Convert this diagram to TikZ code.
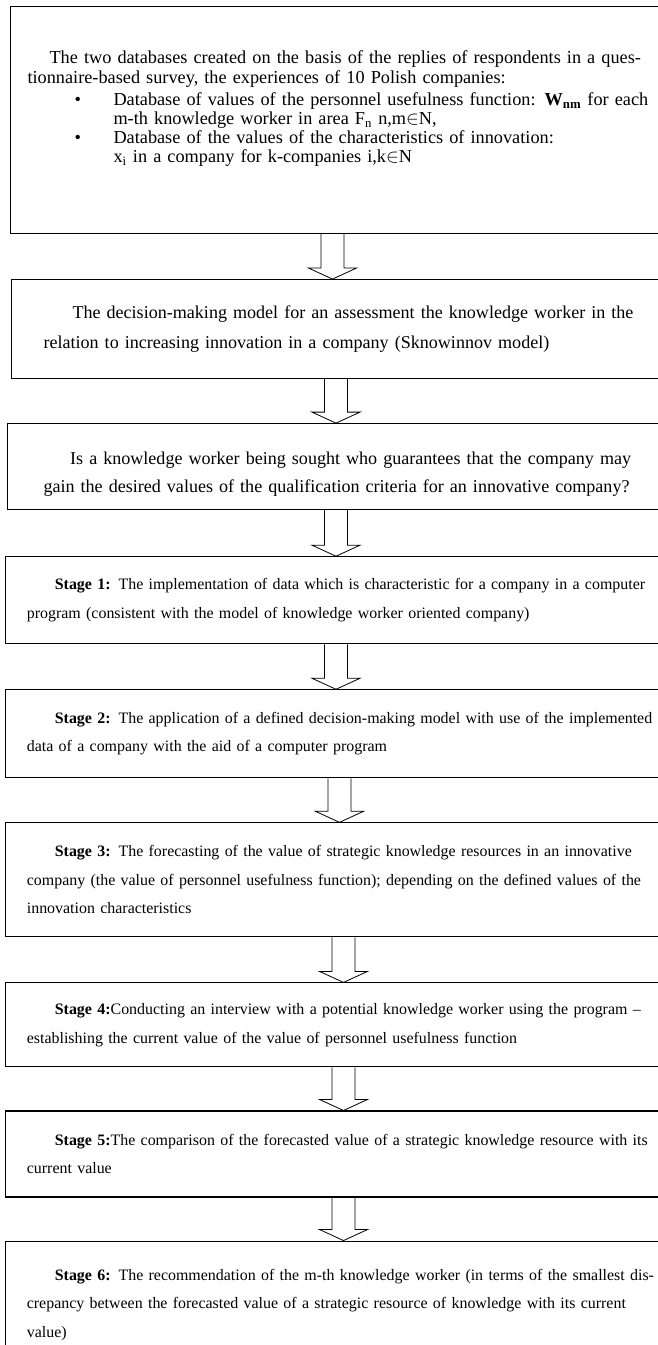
\documentclass[tikz,border=0pt]{standalone}
\usepackage{fontspec}
\setmainfont{Liberation Serif}
\usetikzlibrary{positioning}
\tikzset{
    block/.style={draw,rectangle,line width=0.8pt,anchor=north west,align=left,inner ysep=0pt,minimum width=490pt,text width=520pt},
    topbox/.style={block,inner xsep=24pt,font=\fontsize{13.55}{22.5}\selectfont},
    stagebox/.style={block,inner xsep=16pt,font=\fontsize{11.95}{21.4}\selectfont},
    hollow/.style={draw,line width=0.6pt}
}

\begin{document}
\begin{tikzpicture}[x=0.75pt,y=0.75pt]

                \fill[white] (0,0) rectangle (657,-1345);
                \useasboundingbox (0,0) rectangle (657,-1345);

                \node[topbox,inner xsep=12.75pt,minimum height=170.25pt,font=\fontsize{13.7}{14.25}\selectfont] (databases) at (10,-6)
                    {\hspace*{16.5pt}The two databases created on the basis of the replies of respondents in a ques-\\[0.75pt]
                     tionnaire-based survey, the experiences of 10 Polish companies:\\[2.25pt]
                     \makebox[64.5pt][l]{\hspace*{35.25pt}\textbullet}Database of values of the personnel usefulness function: \textbf{W\textsubscript{nm}} for each\\
                     \hspace*{64.5pt}m-th knowledge worker in area F\textsubscript{n} n,m$\in$N,\\
                     \makebox[64.5pt][l]{\hspace*{35.25pt}\textbullet}Database of the values of the characteristics of innovation:\\
                     \hspace*{64.5pt}x\textsubscript{i} in a company for k-companies i,k$\in$N\rule[-19.6pt]{0pt}{19.6pt}};

                \node[topbox,minimum height=74.25pt] (model) [below=33.75pt of databases.south west,anchor=north west,xshift=0.75pt]
                    {\hspace*{21.75pt}The decision-making model for an assessment the knowledge worker in the\\
                     relation to increasing innovation in a company (Sknowinnov model)};

                \node[topbox,inner xsep=27pt,minimum height=64.5pt,font=\fontsize{13.55}{21}\selectfont] (question) [below=33pt of model.south west,anchor=north west,xshift=-3pt]
                    {\rule{0pt}{20pt}\hspace*{20pt}Is a knowledge worker being sought who guarantees that the company may\\
                     gain the desired values of the qualification criteria for an innovative company?};

                \node[stagebox,minimum height=65.25pt] (stage 1) [below=34.5pt of question.south west,anchor=north west,xshift=-1.5pt]
                    {\hspace*{21pt}\textbf{Stage 1:} The implementation of data which is characteristic for a company in a computer\\
                     program (consistent with the model of knowledge worker oriented company)};

                \node[stagebox,minimum height=66pt] (stage 2) [below=33.75pt of stage 1.south west,anchor=north west]
                    {\hspace*{21pt}\textbf{Stage 2:} The application of a defined decision-making model with use of the implemented\\
                     data of a company with the aid of a computer program};

                \node[stagebox,minimum height=85.5pt] (stage 3) [below=33pt of stage 2.south west,anchor=north west]
                    {\hspace*{21pt}\textbf{Stage 3:} The forecasting of the value of strategic knowledge resources in an innovative\\
                     company (the value of personnel usefulness function); depending on the defined values of the\\
                     innovation characteristics};

                \node[stagebox,minimum height=63pt] (stage 4) [below=33.75pt of stage 3.south west,anchor=north west]
                    {\hspace*{21pt}\textbf{Stage 4:}Conducting an interview with a potential knowledge worker using the program --\\
                     establishing the current value of the value of personnel usefulness function};

                \node[stagebox,minimum height=64.5pt] (stage 5) [below=32.25pt of stage 4.south west,anchor=north west]
                    {\hspace*{21pt}\textbf{Stage 5:}The comparison of the forecasted value of a strategic knowledge resource with its\\
                     current value};

                \node[stagebox,minimum height=96pt] (stage 6) [below=32.25pt of stage 5.south west,anchor=north west]
                    {\hspace*{21pt}\textbf{Stage 6:} The recommendation of the m-th knowledge worker (in terms of the smallest dis-\\
                     crepancy between the forecasted value of a strategic resource of knowledge with its current\\
                     value)};

                \foreach \a/\b/\c in {databases/model/332.5,model/question/336,question/stage 1/336,stage 1/stage 2/336,
                                      stage 2/stage 3/339.5,stage 3/stage 4/343.5,stage 4/stage 5/343.5,stage 5/stage 6/343.5} {
                    \coordinate (tip) at (\c,0 |- \b.north);
                    \draw[hollow] (\c-11.5,0 |- \a.south) -- ([shift={(-11.5,11)}]tip) -- ([shift={(-24,11)}]tip) -- (tip)
                        -- ([shift={(24,11)}]tip) -- ([shift={(11.5,11)}]tip) -- (\c+11.5,0 |- \a.south);
                }

            \end{tikzpicture}
\end{document}
